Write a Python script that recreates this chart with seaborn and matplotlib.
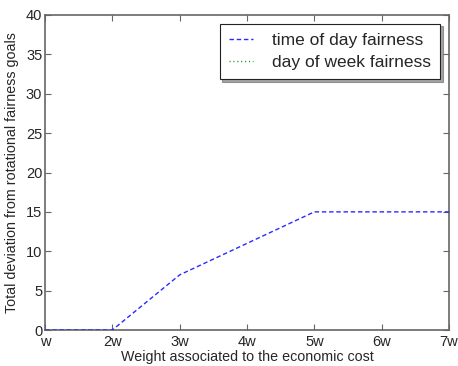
import matplotlib
matplotlib.use("Agg")
import matplotlib.pyplot as plt
import seaborn as sns
import pandas as pd

weights = [1, 2, 3, 4, 5, 6, 7]
tick_labels = ["w", "2w", "3w", "4w", "5w", "6w", "7w"]
time_of_day = [0, 0, 7, 11, 15, 15, 15]
day_of_week = [0, 0, 0, 0, 0, 0, 0]

sns.set_style("white")
plt.rcParams["font.family"] = ["Liberation Sans", "DejaVu Sans"]

df = pd.DataFrame({"weight": weights, "tod": time_of_day, "dow": day_of_week})

fig = plt.figure(figsize=(4.58, 3.66), dpi=100)
ax = fig.add_axes([45 / 458, 36 / 366, 404 / 458, 315 / 366])

sns.lineplot(data=df, x="weight", y="tod", ax=ax, color="#2a2aff",
             linewidth=1.0, label="time of day fairness", zorder=3,
             dashes=False)
sns.lineplot(data=df, x="weight", y="dow", ax=ax, color="#1a9a1a",
             linewidth=1.0, label="day of week fairness", zorder=2,
             dashes=False)
ax.lines[0].set_dashes([3.2, 2.0])
ax.lines[1].set_dashes([0.8, 2.0])

ax.set_xlim(1, 7)
ax.set_ylim(0, 40)
ax.set_xticks(weights)
ax.set_xticklabels(tick_labels)
ax.set_yticks(range(0, 41, 5))
ax.tick_params(direction="in", length=4, width=0.8, color="#666666",
               labelsize=10.5, top=True, right=True, bottom=True, left=True, pad=2)
ax.tick_params(axis="x", pad=3.5)
for s in ax.spines.values():
    s.set_color("#666666")
    s.set_linewidth(1.2)

ax.set_xlabel("Weight associated to the economic cost", fontsize=10.3, labelpad=1)
ax.set_ylabel("Total deviation from rotational fairness goals", fontsize=10.3, labelpad=5)

leg = ax.legend(loc="upper right", fontsize=12.5, frameon=True, fancybox=False,
                shadow=True, handlelength=1.35, handletextpad=1.1,
                borderpad=0.55, labelspacing=0.35, borderaxespad=0.5)
leg.get_frame().set_edgecolor("#222222")
leg.get_frame().set_linewidth(0.8)
leg.get_lines()[0].set_dashes([3.2, 2.0])
leg.get_lines()[1].set_dashes([0.8, 2.0])

fig.savefig("out.png", dpi=100)
